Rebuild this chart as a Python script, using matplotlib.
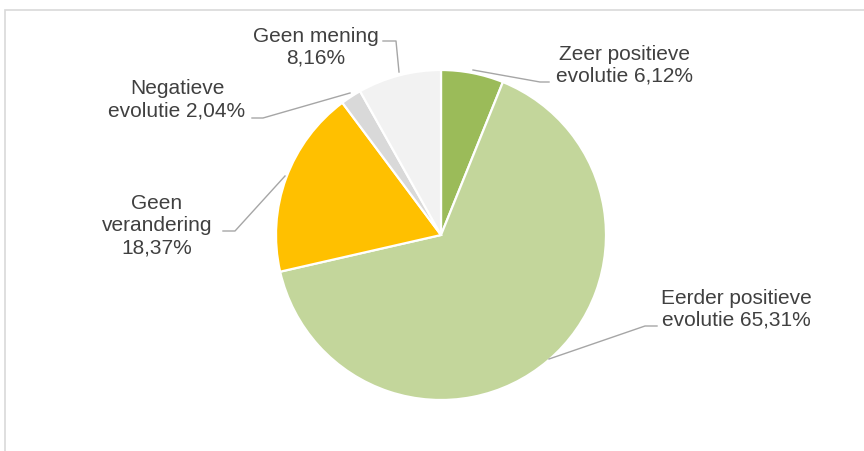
import numpy as np
import matplotlib
matplotlib.use("Agg")
import matplotlib.pyplot as plt
from matplotlib.patches import Rectangle

# data (clockwise from 12 o'clock)
labels = ["Zeer positieve\nevolutie 6,12%",
          "Eerder positieve\nevolutie 65,31%",
          "Geen\nverandering\n18,37%",
          "Negatieve\nevolutie 2,04%",
          "Geen mening\n8,16%"]
values = [6.12, 65.31, 18.37, 2.04, 8.16]
colors = ["#9BBB59", "#C3D69B", "#FFC000", "#D9D9D9", "#F2F2F2"]

W, H = 864, 452
fig = plt.figure(figsize=(W / 100, H / 100), dpi=100)
ax = fig.add_axes([0, 0, 1, 1])
ax.set_xlim(0, W)
ax.set_ylim(0, H)
ax.set_aspect("equal")
ax.axis("off")

def py(y):
    # pixel row -> data y
    return H - y

# chart frame (no right/bottom edge visible)
fig.patches.append(Rectangle((4.5 / W, -0.1), 2, (H - 10.5) / H + 0.1,
                             transform=fig.transFigure, fill=False,
                             edgecolor="#D9D9D9", linewidth=1.2))

cx, cy, r = 441, py(236), 165
ax.pie(values, colors=colors, startangle=90, counterclock=False,
       center=(cx, cy), radius=r,
       wedgeprops=dict(edgecolor="white", linewidth=1.6))
ax.set_xlim(0, W)
ax.set_ylim(0, H)

# label positions (pixel coords, centre of text block) and leader lines
label_pos = [(625, 65), (736, 309), (157, 226), (177, 100), (316, 47)]
leaders = [
    [(473, 71), (540, 83), (549, 83)],
    [(549, 360), (645, 327), (657, 327)],
    [(285, 177), (235, 232), (223, 232)],
    [(350, 94), (263, 119), (252, 119)],
    [(399, 73), (396, 42), (383, 42)],
]

tc = "#404040"
for lab, (x, y), pts in zip(labels, label_pos, leaders):
    ax.text(x, py(y), lab, ha="center", va="center", fontsize=15,
            color=tc, family="Liberation Sans", linespacing=1.2)
    xs = [p[0] for p in pts]
    ys = [py(p[1]) for p in pts]
    ax.plot(xs, ys, color="#A6A6A6", linewidth=1.0)

fig.savefig("out.png", dpi=100)
